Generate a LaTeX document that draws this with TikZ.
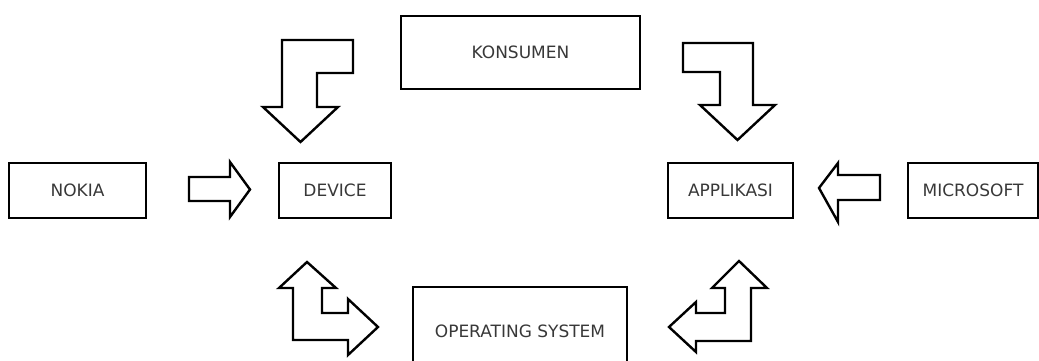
\documentclass[tikz,border=0pt]{standalone}
\usepackage{fontspec}
\setmainfont{DejaVu Sans}
\usetikzlibrary{positioning}

\begin{document}
\begin{tikzpicture}[x=1pt, y=-1pt, font=\fontsize{17}{19}\selectfont,
  box/.style={draw, line width=2.2pt, minimum height=55pt, text=black!78, inner sep=0pt},
  blk/.style={draw, line width=2.4pt, line join=miter, fill=white}]
\useasboundingbox (0,0) rectangle (1039,361);
\clip (0,0) rectangle (1039,361);
\node[box, minimum width=137pt] (nokia) at (77.5,190.5) {NOKIA};
\node[box, minimum width=112pt] (device) at (335,190.5) {DEVICE};
\node[box, minimum width=239pt, minimum height=73pt] (konsumen) at (520.5,52.5) {KONSUMEN};
\node[box, minimum width=125pt] (appl) at (730.5,190.5) {APPLIKASI};
\node[box, minimum width=130pt] (ms) at (973,190.5) {MICROSOFT};
\node[box, minimum width=214pt, minimum height=88pt] (os) at (520,331) {OPERATING SYSTEM};
% straight block arrows
\draw[blk] (189,177) -- (230,177) -- (230,162) -- (250,189.5) -- (230,217) -- (230,201) -- (189,201) -- cycle;
\draw[blk] (880,175) -- (838,175) -- (838,163) -- (819,188) -- (838,222) -- (838,200) -- (880,200) -- cycle;
% bent block arrows, top
\draw[blk] (282,40) -- (353,40) -- (353,73) -- (317,73) -- (317,107) -- (338,107) -- (300.5,142) -- (263,107) -- (282,107) -- cycle;
\draw[blk] (683,43) -- (753,43) -- (753,105) -- (775,105) -- (737.5,140) -- (700,105) -- (720,105) -- (720,72) -- (683,72) -- cycle;
% bent block arrows, bottom
\draw[blk] (307,262) -- (336,288) -- (322,288) -- (322,313) -- (348,313) -- (348,299) -- (378,327) -- (348,355) -- (348,340) -- (293,340) -- (293,288) -- (279,288) -- cycle;
\draw[blk] (739,261) -- (767,288) -- (751,288) -- (751,341) -- (696,341) -- (696,352) -- (669,327) -- (696,302) -- (696,313) -- (725,313) -- (725,288) -- (712,288) -- cycle;
\end{tikzpicture}
\end{document}
